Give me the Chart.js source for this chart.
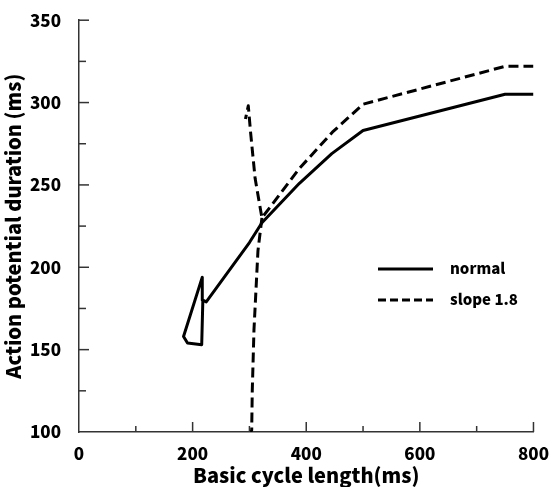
<!DOCTYPE html>
<html>
<head>
<meta charset="utf-8">
<script src="https://cdn.jsdelivr.net/npm/chart.js@4/dist/chart.umd.min.js"></script>
<style>
  html, body { margin: 0; padding: 0; background: #fff; }
  #wrap { width: 552px; height: 487px; }
</style>
</head>
<body>
<div id="wrap"><canvas id="c" width="552" height="487"></canvas></div>
<script>
// data
const normalX = [800, 750, 500, 445, 388, 322, 300, 224, 218, 217, 184, 191, 216, 218];
const normalY = [305, 305, 283, 269, 251, 227, 215, 179, 180, 194, 158, 154, 153, 180];

// slope 1.8: right branch up to the split, then long APD branch
const slopeLongX = [800, 750, 500, 446, 388, 322, 310, 302, 298, 293];
const slopeLongY = [322, 322, 299, 282, 260, 230, 254, 282, 298, 290];
// short APD branch below the split
const slopeShortX = [322, 315, 308, 305, 304, 301];
const slopeShortY = [230, 210, 162, 125, 101, 100];

const xTicks = [0, 200, 400, 600, 800];
const yTicks = [100, 150, 200, 250, 300, 350];

const legendItems = ['normal', 'slope 1.8'];

const FONT = '"Noto Sans CJK KR", "DejaVu Sans", sans-serif';

function pts(xs, ys) {
    return xs.map((x, i) => ({ x: x, y: ys[i] }));
}

const lineStyle = {
    showLine: true,
    borderColor: '#000',
    borderWidth: 3,
    pointRadius: 0,
    fill: false,
    tension: 0,
    borderJoinStyle: 'round',
};

// inward ticks + legend inside the plot
const extras = {
    id: 'extras',
    afterDraw(chart) {
        const ctx = chart.ctx;
        const xs = chart.scales.x, ys = chart.scales.y;
        const area = chart.chartArea;
        ctx.save();
        ctx.strokeStyle = '#333';
        ctx.lineWidth = 1.5;
        for (let v = 100; v <= 800; v += 100) {
            const px = xs.getPixelForValue(v);
            const len = xTicks.includes(v) ? 10 : 6;
            ctx.beginPath();
            ctx.moveTo(px, area.bottom);
            ctx.lineTo(px, area.bottom - len);
            ctx.stroke();
        }
        for (let v = 125; v <= 350; v += 25) {
            const py = ys.getPixelForValue(v);
            const len = yTicks.includes(v) ? 10 : 7;
            ctx.beginPath();
            ctx.moveTo(area.left, py);
            ctx.lineTo(area.left + len, py);
            ctx.stroke();
        }

        // legend
        ctx.strokeStyle = '#000';
        ctx.lineWidth = 3;
        ctx.fillStyle = '#000';
        ctx.font = '900 15px ' + FONT;
        ctx.textBaseline = 'middle';
        const lx = 378, lw = 55, tx = 450;
        const rows = [269, 300];
        rows.forEach((y, i) => {
            ctx.setLineDash(i === 0 ? [] : [8, 4]);
            ctx.beginPath();
            ctx.moveTo(lx, y);
            ctx.lineTo(lx + lw, y);
            ctx.stroke();
            ctx.fillText(legendItems[i], tx, y - 1);
        });
        ctx.restore();
    },
};

new Chart(document.getElementById('c'), {
    type: 'scatter',
    data: {
        datasets: [
            Object.assign({ label: 'normal', data: pts(normalX, normalY) }, lineStyle),
            Object.assign({ label: 'slope 1.8', data: pts(slopeLongX, slopeLongY), borderDash: [10, 5] }, lineStyle),
            Object.assign({ label: 'slope 1.8 short', data: pts(slopeShortX, slopeShortY), borderDash: [10, 5] }, lineStyle),
        ],
    },
    options: {
        responsive: false,
        animation: false,
        layout: { padding: { top: 18, right: 18, left: 0, bottom: 0 } },
        plugins: {
            legend: { display: false },
            tooltip: { enabled: false },
        },
        scales: {
            x: {
                type: 'linear',
                min: 0,
                max: 800,
                afterFit: (s) => { s.height = 55; },
                grid: { display: false },
                border: { display: true, color: '#333', width: 1.5 },
                ticks: {
                    stepSize: 100,
                    padding: 3,
                    color: '#000',
                    maxRotation: 0,
                    font: { family: FONT, size: 17, weight: '900' },
                    callback: (v) => (xTicks.includes(v) ? v : ''),
                },
                title: {
                    display: true,
                    text: 'Basic cycle length(ms)',
                    color: '#000',
                    padding: { top: 0, bottom: 0 },
                    font: { family: FONT, size: 20, weight: '900' },
                },
            },
            y: {
                type: 'linear',
                min: 100,
                max: 350,
                afterFit: (s) => { s.width = 79; },
                grid: { display: false },
                border: { display: true, color: '#333', width: 1.5 },
                ticks: {
                    stepSize: 25,
                    padding: 10,
                    color: '#000',
                    font: { family: FONT, size: 17, weight: '900' },
                    callback: (v) => (yTicks.includes(v) ? v : ''),
                },
                title: {
                    display: true,
                    text: 'Action potential duration (ms)',
                    color: '#000',
                    padding: { top: 1, bottom: 0 },
                    font: { family: FONT, size: 20, weight: '900' },
                },
            },
        },
    },
    plugins: [extras],
});
</script>
</body>
</html>
